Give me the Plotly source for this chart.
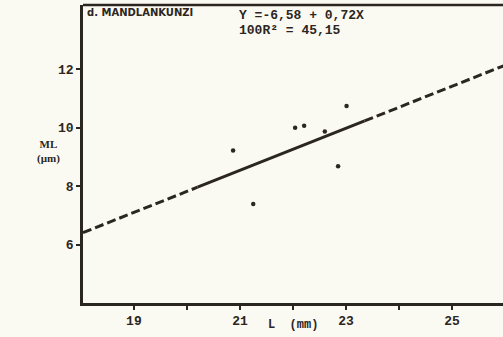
import plotly.graph_objects as go

# waarnemingen (lengte L in mm, ML in µm)
lengte = [20.87, 21.25, 22.04, 22.21, 22.60, 22.85, 23.01]
ml = [9.22, 7.39, 10.00, 10.07, 9.87, 8.68, 10.74]

# regressielijn Y = a + bX
a = -6.58
b = 0.72
x_dash_links = [18.04, 20.2]
x_vast = [20.2, 23.35]
x_dash_rechts = [23.35, 26.0]

x_ticks = [19, 20, 21, 22, 23, 24, 25]
x_ticktext = ['19', '', '21', '', '23', '', '25']
y_ticks = [6, 8, 10, 12]

inkt = '#2b2622'
papier = '#fbfaf2'

fig = go.Figure()

# gestippelde stukken van de lijn
for xs in (x_dash_links, x_dash_rechts):
    fig.add_trace(go.Scatter(x=xs, y=[a + b * v for v in xs], mode='lines',
                             line=dict(color=inkt, width=3, dash='9px,4px')))

# doorgetrokken stuk
fig.add_trace(go.Scatter(x=x_vast, y=[a + b * v for v in x_vast], mode='lines',
                         line=dict(color=inkt, width=3)))

# punten
fig.add_trace(go.Scatter(x=lengte, y=ml, mode='markers',
                         marker=dict(color=inkt, size=4.5)))

tickfont = dict(family='Liberation Mono', size=13, color=inkt, weight='bold')

fig.update_xaxes(range=[18.04, 25.96], tickvals=x_ticks, ticktext=x_ticktext,
                 ticks='outside', ticklen=4, tickwidth=1.5, tickcolor=inkt,
                 showline=True, linecolor=inkt, linewidth=2.5, mirror=False,
                 showgrid=False, zeroline=False, tickfont=tickfont)
fig.update_yaxes(range=[4.0, 14.2], tickvals=y_ticks,
                 ticks='outside', ticklen=4, tickwidth=1.5, tickcolor=inkt,
                 showline=True, linecolor=inkt, linewidth=2.5,
                 showgrid=False, zeroline=False, tickfont=tickfont)

# bovenrand van het kader
fig.add_shape(type='line', xref='paper', yref='paper', x0=0, x1=1, y0=1, y1=1,
              line=dict(color=inkt, width=2.5))

fig.add_annotation(text='<b>d. MANDLANKUNZI</b>', xref='paper', yref='paper',
                   x=0.004, y=1.0, xanchor='left', yanchor='top', showarrow=False,
                   font=dict(family='DejaVu Sans', size=10, color=inkt))
# vergelijking, twee regels dicht op elkaar
fig.add_annotation(text='<b>Y =-6,58 + 0,72X</b>', xref='paper', yref='paper',
                   x=0.366, y=0.966, xanchor='left', yanchor='middle', showarrow=False,
                   font=dict(family='Liberation Mono', size=13, color=inkt))
fig.add_annotation(text='<b>100R² = 45,15</b>', xref='paper', yref='paper',
                   x=0.366, y=0.914, xanchor='left', yanchor='middle', showarrow=False,
                   font=dict(family='Liberation Mono', size=13, color=inkt))
fig.add_annotation(text='<b>ML<br>(µm)</b>', xref='paper', yref='paper',
                   x=-0.083, y=0.51, xanchor='center', yanchor='middle', showarrow=False,
                   font=dict(family='Liberation Serif', size=11, color=inkt))
fig.add_annotation(text='<b>L  (mm)</b>', xref='paper', yref='paper',
                   x=0.5, y=-0.075, xanchor='center', yanchor='middle', showarrow=False,
                   font=dict(family='Liberation Mono', size=12, color=inkt))

fig.update_layout(width=503, height=337,
                  margin=dict(l=83, r=0, t=5, b=34),
                  showlegend=False,
                  plot_bgcolor=papier, paper_bgcolor=papier)

# geen witrand rond de pagina, geen modebar
fig.write_html('out.html', config={'displayModeBar': False},
               post_script="document.body.style.margin='0';document.body.style.overflow='hidden';"
                           "document.body.style.background='" + papier + "';")
